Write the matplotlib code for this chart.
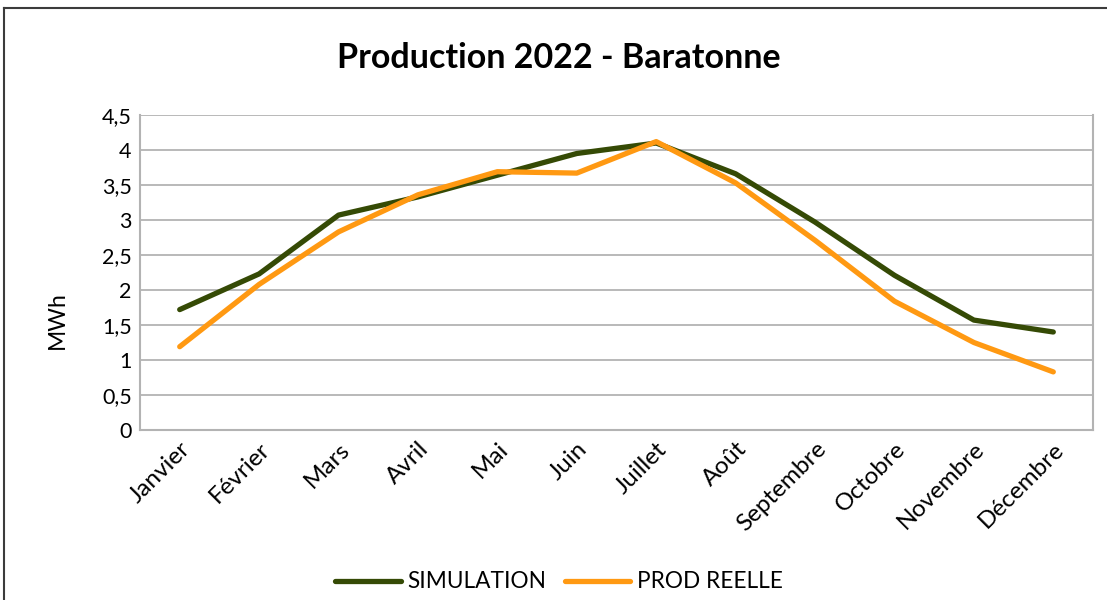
import matplotlib
matplotlib.use('Agg')
import matplotlib.pyplot as plt
import matplotlib.transforms as mtransforms
from matplotlib.lines import Line2D

#### data ####
mois = ['Janvier', 'Février', 'Mars', 'Avril', 'Mai', 'Juin', 'Juillet',
        'Août', 'Septembre', 'Octobre', 'Novembre', 'Décembre']
simulation = [1.72, 2.23, 3.07, 3.33, 3.64, 3.95, 4.10, 3.66, 2.97, 2.21, 1.57, 1.40]
prod_reelle = [1.19, 2.08, 2.83, 3.36, 3.69, 3.67, 4.12, 3.53, 2.71, 1.84, 1.25, 0.83]
y_ticks = [0, 0.5, 1, 1.5, 2, 2.5, 3, 3.5, 4, 4.5]

plt.rcParams['font.family'] = ['Lato', 'DejaVu Sans']

#### plot ####
fig = plt.figure(figsize=(11.07, 6), dpi=100)
ax = fig.add_axes([140 / 1107, 1 - 430 / 600, 953 / 1107, 315 / 600])

x = range(len(mois))
ax.plot(x, simulation, color='#354a05', lw=3.8, solid_capstyle='round',
        solid_joinstyle='round', label='SIMULATION', zorder=3)
ax.plot(x, prod_reelle, color='#ff9912', lw=3.8, solid_capstyle='round',
        solid_joinstyle='round', label='PROD REELLE', zorder=4)

ax.set_xlim(-0.5, len(mois) - 0.5)
ax.set_ylim(0, 4.5)
ax.set_yticks(y_ticks)
ax.set_yticklabels([f'{v:g}'.replace('.', ',') for v in y_ticks], fontsize=15.5)
ax.set_xticks(list(x))
ax.set_xticklabels(mois, rotation=45, ha='right', va='top', fontsize=17.5,
                   rotation_mode='anchor')
# petit decalage a gauche des etiquettes de mois
decal = mtransforms.ScaledTranslation(-4 / 100, 0, fig.dpi_scale_trans)
for lbl in ax.get_xticklabels():
    lbl.set_transform(lbl.get_transform() + decal)
ax.tick_params(length=0, pad=6)
ax.tick_params(axis='x', pad=6)
ax.grid(axis='y', color='#b3b3b3', lw=1.3)
ax.set_axisbelow(True)
for side in ['left', 'bottom', 'right']:
    ax.spines[side].set_color('#b3b3b3')
    ax.spines[side].set_linewidth(1.5)
ax.spines['top'].set_visible(False)

fig.text(57 / 1107, 1 - 320 / 600, 'MWh', fontsize=16.5, rotation=90,
         ha='center', va='center')

fig.text(559 / 1107, 1 - 58 / 600, 'Production 2022 - Baratonne', fontsize=24.5,
         fontweight='bold', ha='center', va='center')

fig.legend(loc='center', bbox_to_anchor=(559 / 1107, 1 - 582 / 600), ncol=2,
           frameon=False, fontsize=16.3, handlelength=2.9, columnspacing=0.8,
           handletextpad=0.3)

# cadre du graphique
fig.add_artist(Line2D([4 / 1107, 4 / 1107], [0, 1 - 8 / 600], color='#3c3c3c', lw=1.5))
fig.add_artist(Line2D([4 / 1107, 1], [1 - 8 / 600, 1 - 8 / 600], color='#3c3c3c', lw=1.5))

fig.savefig('out.png', dpi=100)
